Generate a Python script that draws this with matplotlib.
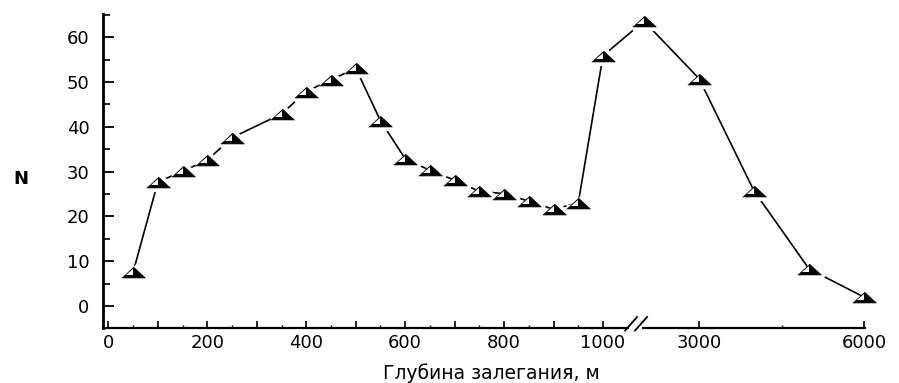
import numpy as np
import matplotlib
matplotlib.use("Agg")
import matplotlib.pyplot as plt
from matplotlib.ticker import FixedLocator, FixedFormatter, NullFormatter

# depth of occurrence, m  /  number of deposits N
depth = [50, 100, 150, 200, 250, 350, 400, 450, 500, 550, 600, 650,
         700, 750, 800, 850, 900, 950, 1000, 2000, 3000, 4000, 5000, 6000]
count = [7.6, 27.7, 30.1, 32.6, 37.6, 42.9, 47.9, 50.5, 53.1, 41.4, 32.9, 30.3,
         28.1, 25.6, 25.1, 23.4, 21.6, 23.0, 55.9, 63.6, 50.8, 25.7, 8.3, 2.0]

xticks_major = [0, 100, 200, 300, 400, 500, 600, 700, 800, 900, 1000, 3000, 6000]
xtick_labels = ["0", "", "200", "", "400", "", "600", "", "800", "", "1000", "3000", "6000"]
xticks_minor = [50, 150, 250, 350, 450, 550, 650, 750, 850, 950, 4500]
yticks_major = [0, 10, 20, 30, 40, 50, 60]
yticks_minor = [5, 15, 25, 35, 45, 55, 65]

# broken x axis: 0-1000 stretched, 1000-2000 squeezed, 2000-6000 compressed
bp_x = [-1000, 0, 1000, 2000, 6000, 10000]
bp_u = [-494.5, 0, 494.5, 535.5, 755.5, 975.5]


def forward(x):
    return np.interp(x, bp_x, bp_u)


def inverse(u):
    return np.interp(u, bp_u, bp_x)


fig = plt.figure(figsize=(8.99, 3.83), dpi=100)
ax = fig.add_axes([0.1151, 0.1436, 0.8471, 0.8198])
ax.set_xscale("function", functions=(forward, inverse))

outer = [(-1, -0.46), (1, -0.46), (0, 0.46)]
inner = [(-0.62, -0.27), (0.02, -0.27), (0.02, 0.29)]
ms = 17

ax.plot(depth, count, color="black", lw=1.2, zorder=2)
# white halo so the line stops short of the markers
ax.plot(depth, count, ls="none", marker=outer, ms=ms, mfc="white",
        mec="white", mew=6, zorder=3, clip_on=False)
ax.plot(depth, count, ls="none", marker=outer, ms=ms, mfc="black",
        mec="black", mew=0.5, zorder=4, clip_on=False)
ax.plot(depth, count, ls="none", marker=inner, ms=ms * 0.62, mfc="white",
        mec="white", mew=0, zorder=5, clip_on=False)

ax.set_xlim(-10, 6018)
ax.set_ylim(-4.9, 65.2)

for s in ["top", "right"]:
    ax.spines[s].set_visible(False)
ax.spines["left"].set_linewidth(2.0)
ax.spines["bottom"].set_linewidth(1.6)

ax.xaxis.set_major_locator(FixedLocator(xticks_major))
ax.xaxis.set_major_formatter(FixedFormatter(xtick_labels))
ax.xaxis.set_minor_locator(FixedLocator(xticks_minor))
ax.xaxis.set_minor_formatter(NullFormatter())
ax.yaxis.set_major_locator(FixedLocator(yticks_major))
ax.yaxis.set_minor_locator(FixedLocator(yticks_minor))

ax.tick_params(axis="x", which="major", direction="in", length=5, width=1.2,
               pad=4, labelsize=13)
ax.tick_params(axis="x", which="minor", direction="in", length=2.5, width=1.0)
ax.tick_params(axis="y", which="major", direction="in", length=8, width=1.3,
               pad=10, labelsize=13)
ax.tick_params(axis="y", which="minor", direction="in", length=5, width=1.2)

ax.set_ylabel("N", rotation=0, fontsize=13, fontweight="bold",
              ha="center", va="center")
ax.yaxis.set_label_coords(-0.109, 0.476)
ax.set_xlabel("Глубина залегания, м", fontsize=13.5, va="center")
ax.xaxis.set_label_coords(0.509, -0.143)

# break marks on the x axis
ax.plot([0.6925, 0.704], [0, 0], transform=ax.transAxes, color="white",
        lw=3, clip_on=False, zorder=6)
ax.plot([0.685, 0.7006], [-0.008, 0.035], transform=ax.transAxes,
        color="black", lw=1.3, clip_on=False, zorder=7)
ax.plot([0.698, 0.7138], [-0.008, 0.035], transform=ax.transAxes,
        color="black", lw=1.3, clip_on=False, zorder=7)

fig.savefig("out.png", dpi=100)
